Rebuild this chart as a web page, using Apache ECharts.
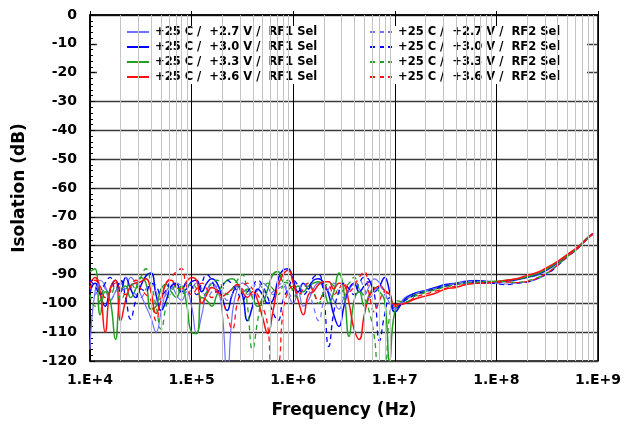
<!DOCTYPE html>
<html>
<head>
<meta charset="utf-8">
<script src="https://cdn.jsdelivr.net/npm/echarts@6/dist/echarts.min.js"></script>
<style>html,body{margin:0;padding:0;background:#fff;}#c{width:624px;height:424px;}</style>
</head>
<body>
<div id="c"></div>
<script>
// Frequency grid (Hz)
const freq = [
1.00e4,1.12e4,1.26e4,1.41e4,1.58e4,1.78e4,2.00e4,2.24e4,2.51e4,2.82e4,3.16e4,3.55e4,3.98e4,4.47e4,5.01e4,5.62e4,6.31e4,7.08e4,7.94e4,8.91e4,
1.00e5,1.12e5,1.26e5,1.41e5,1.58e5,1.78e5,2.00e5,2.24e5,2.51e5,2.82e5,3.16e5,3.55e5,3.98e5,4.47e5,5.01e5,5.62e5,6.31e5,7.08e5,7.94e5,8.91e5,
1.00e6,1.12e6,1.26e6,1.41e6,1.58e6,1.78e6,2.00e6,2.24e6,2.51e6,2.82e6,3.16e6,3.55e6,3.98e6,4.47e6,5.01e6,5.62e6,6.31e6,7.08e6,7.94e6,8.91e6,
1.00e7,1.26e7,1.58e7,2.00e7,2.51e7,3.16e7,3.98e7,5.01e7,6.31e7,7.94e7,
1.00e8,1.26e8,1.58e8,2.00e8,2.51e8,3.16e8,3.98e8,5.01e8,6.31e8,7.94e8,8.91e8
];

// Isolation (dB) per series
const rf1_27 = [-116,-96,-92,-94,-99,-96,-93,-95,-91,-93,-97,-101,-105,-110,-103,-96,-94,-97,-99,-96,
-101,-110.5,-104,-96,-93,-95,-103,-126,-104,-95,-93,-94,-97,-95.5,-93,-94.5,-97,-95,-94,-97,
-100,-96,-101,-99,-95,-93,-94,-96,-99,-102,-98,-95,-93.5,-95,-97,-94,-91.5,-93,-96,-100,
-101.5,-98,-96.5,-95.8,-94.8,-93.5,-93.2,-92.2,-92,-92.5,-92.8,-92.2,-91.7,-91,-90.3,-88.5,-86.2,-83.4,-80.8,-77.3,-75.9];
const rf1_30 = [-96,-93,-97,-101,-95,-92,-96,-91,-95,-98,-94,-90.5,-89.5,-97,-102.5,-99,-94,-93,-96,-95,
-92.5,-92,-96,-93,-91.5,-93,-98,-102.5,-97,-94,-97,-106,-101,-95,-97,-100,-99,-92,-88.5,-88,
-92,-96,-93,-95,-92,-91.5,-93,-97,-104,-108,-101,-95,-93,-96,-94,-92.5,-96,-94,-91,-96,
-103,-98.5,-96.5,-95.5,-94.5,-93.5,-93,-92.5,-92.2,-92.3,-92.6,-92.3,-91.8,-91,-90,-88.3,-86,-83.3,-80.8,-77.3,-75.8];
const rf1_33 = [-89,-88,-104,-96,-99,-112.5,-96,-94,-98,-95,-91,-93,-102,-101,-95,-93.5,-96,-98,-94,-100,
-110,-110.5,-98,-99,-101,-97,-94,-92,-91.5,-93,-96,-95,-98,-101,-100,-95,-90,-89,-92.5,-93,
-95,-94,-96,-94,-93,-92.5,-95,-100,-96,-89.5,-96,-111.5,-99,-96,-101,-97,-94.5,-96,-99,-120,
-103,-99,-97,-95.8,-95,-94,-93.2,-92.8,-92.6,-92.5,-92.4,-92,-91.6,-90.8,-89.8,-88,-85.8,-83.2,-80.6,-77.2,-75.8];
const rf1_36 = [-93,-91,-96,-110,-95,-92,-106,-99,-94,-93,-92.5,-91.5,-96,-103.5,-99,-93,-92,-94.5,-95,-92.5,
-91,-92,-100,-97,-94.5,-95.5,-97.5,-96.5,-95,-93.5,-96,-98,-96,-99,-105,-110.5,-103,-94,-90,-88.5,
-93,-99,-104,-97,-96,-93.5,-92.5,-92.5,-95,-93,-93.5,-100,-109,-112.5,-104,-97.5,-95,-94,-95.5,-97,
-100.5,-100,-98.5,-97.5,-96.5,-95,-94.5,-93.5,-93,-93,-92.5,-92,-91.5,-90.3,-89.3,-87.5,-85.5,-83,-80.5,-77.2,-75.8];
const rf2_27 = [-94,-97,-93,-95,-99,-96,-93,-91,-94,-97,-98,-95,-93,-96,-99,-97,-95,-93,-94,-97,
-95,-93,-95,-98,-96,-94,-96,-99,-97,-94,-95,-97,-95,-93,-95,-97,-96,-94,-93,-96,
-98,-96,-93,-95,-101,-106,-99,-95,-93,-96,-98,-95,-93,-92,-95,-98,-96,-94,-97,-100,
-102,-98.8,-96.8,-95.6,-94.8,-93.8,-93.2,-92.6,-92.4,-92.7,-93,-93.3,-92.9,-92.5,-91.6,-89.7,-86.9,-83.8,-81,-77.5,-76];
const rf2_30 = [-92,-94,-97,-93,-91,-95,-92,-98,-105.5,-99,-95,-96,-93,-94,-97,-95.5,-92.5,-94,-96,-93,
-94,-97,-93,-90,-92,-96,-94,-92,-93.5,-96,-99,-96,-94,-92,-94,-98,-103,-106,-99,-95,
-92,-94,-97,-95,-91,-90,-98,-115,-103,-96,-93,-95,-97,-93,-91,-92,-97,-113,-104,-98,
-102,-99,-97.2,-96,-95,-94,-93.4,-92.9,-92.6,-92.8,-93.2,-93.5,-93,-92.6,-91.5,-89.8,-87,-83.9,-81,-77.5,-76];
const rf2_33 = [-97,-101,-99,-95,-97,-94,-99,-96,-93,-95,-91,-88,-93,-101,-109,-101,-96,-94,-97,-95,
-93,-95,-98,-96,-93,-92,-94,-97,-95,-92,-90,-101,-116,-106,-97,-93,-95,-97,-94,-92,
-96,-98,-95,-93,-96,-100,-96,-93,-94,-97,-95,-93,-91,-95,-98,-103,-112,-127,-125,-104,
-99,-99.5,-97.5,-96.3,-95.3,-94.3,-93.6,-93,-92.7,-92.5,-92.3,-92.5,-92.7,-92.2,-91.2,-89.4,-86.7,-83.7,-81,-77.5,-76];
const rf2_36 = [-95,-92,-94,-98,-96,-93,-95,-97,-94,-92,-95,-97,-99,-106,-98,-93,-91,-89,-88,-94,
-97,-95,-93,-95,-98,-96,-99,-104,-109,-100,-95,-93,-95,-97,-101,-108,-126,-124,-103,-96,
-94,-97,-95,-93,-96,-99,-96,-94,-97,-95,-93,-96,-94,-91,-89,-97,-103,-99,-96,-98,
-101,-100,-98,-96.8,-95.8,-94.8,-94,-93.5,-93,-92.8,-92.7,-92.6,-92.8,-92.4,-91.3,-89.5,-86.8,-83.8,-81,-77.5,-76];

const seriesNames = [
  '+25 C /  +2.7 V /  RF1 Sel','+25 C /  +3.0 V /  RF1 Sel','+25 C /  +3.3 V /  RF1 Sel','+25 C /  +3.6 V /  RF1 Sel',
  '+25 C /  +2.7 V /  RF2 Sel','+25 C /  +3.0 V /  RF2 Sel','+25 C /  +3.3 V /  RF2 Sel','+25 C /  +3.6 V /  RF2 Sel'
];
const seriesValues = [rf1_27, rf1_30, rf1_33, rf1_36, rf2_27, rf2_30, rf2_33, rf2_36];
const seriesColors = ['#7070ff','#0000ff','#22a022','#ff1010','#7070ff','#0000ff','#22a022','#ff1010'];
const seriesDashed = [false,false,false,false,true,true,true,true];
const seriesWidths = [1.2,1.5,1.5,1.5,1.2,1.3,1.3,1.3];

// minor log grid positions
const minorMant = [2,3,4,5,6,7,8,9];
const decades = [1e4,1e5,1e6,1e7,1e8];

const FONT = 'DejaVu Sans';
const minorLines = [];
decades.forEach(d => minorMant.forEach(m => minorLines.push({xAxis: m * d})));

const series = [{
  type: 'line', name: '_grid', data: [], z: 1, silent: true,
  markLine: {
    silent: true, symbol: ['none','none'], animation: false,
    label: {show: false},
    lineStyle: {color: '#c4c4c4', type: 'solid', width: 1},
    emphasis: {disabled: true},
    data: minorLines
  }
}];
seriesNames.forEach((n, k) => {
  series.push({
    type: 'line', name: n, smooth: 0.5, showSymbol: false, symbol: 'none',
    clip: true, animation: false, z: 2,
    data: freq.map((f, i) => [f, seriesValues[k][i]]),
    itemStyle: {color: seriesColors[k]},
    lineStyle: {color: seriesColors[k], width: seriesWidths[k], type: seriesDashed[k] ? [5, 4] : 'solid'}
  });
});

function makeLegend(left, names) {
  return {
    orient: 'vertical', left: left, top: 26, itemWidth: 22, itemHeight: 10, itemGap: 3,
    padding: 0, z: 4, selectedMode: false,
    itemStyle: {opacity: 0},
    data: names,
    textStyle: {fontFamily: FONT, fontWeight: 'bold', fontSize: 11.5, color: '#000', padding: [0, 0, 0, 1]}
  };
}

const chart = echarts.init(document.getElementById('c'), null, {renderer: 'canvas'});
chart.setOption({
  animation: false,
  backgroundColor: '#fff',
  grid: {left: 90, right: 23, top: 15, bottom: 63, show: true, borderColor: '#000', borderWidth: 1.5, containLabel: false},
  graphic: [{type: 'rect', z: 3, shape: {x: 97, y: 26, width: 490, height: 58}, style: {fill: '#fff'}, silent: true}],
  legend: [makeLegend(126, seriesNames.slice(0, 4)), makeLegend(369, seriesNames.slice(4))],
  xAxis: {
    type: 'log', logBase: 10, min: 1e4, max: 1e9,
    name: 'Frequency (Hz)', nameLocation: 'middle', nameGap: 41,
    nameTextStyle: {fontFamily: FONT, fontWeight: 'bold', fontSize: 17, color: '#000'},
    axisLine: {lineStyle: {color: '#000', width: 1.5}},
    axisTick: {show: true, inside: true, length: 4, lineStyle: {color: '#000'}},
    axisLabel: {fontFamily: FONT, fontWeight: 'bold', fontSize: 14, color: '#000', margin: 12,
      formatter: v => '1.E+' + Math.round(Math.log10(v))},
    splitLine: {show: true, lineStyle: {color: '#000', width: 1}}
  },
  yAxis: {
    type: 'value', min: -120, max: 0, interval: 10,
    name: 'Isolation (dB)', nameLocation: 'middle', nameGap: 62, nameRotate: 90,
    nameTextStyle: {fontFamily: FONT, fontWeight: 'bold', fontSize: 17, color: '#000'},
    axisLine: {show: true, lineStyle: {color: '#000', width: 1.5}},
    axisTick: {show: true, inside: true, length: 5, lineStyle: {color: '#000'}},
    minorTick: {show: true, splitNumber: 5, length: 3, lineStyle: {color: '#000'}},
    axisLabel: {fontFamily: FONT, fontWeight: 'bold', fontSize: 14, color: '#000', margin: 13},
    splitLine: {show: true, lineStyle: {color: '#3a3a3a', width: 1.3}}
  },
  series: series
});
</script>
</body>
</html>
